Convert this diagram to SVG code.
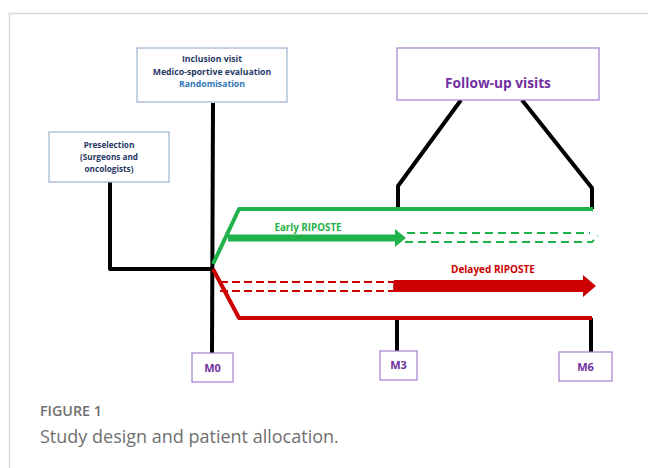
<svg xmlns="http://www.w3.org/2000/svg" width="648" height="468" viewBox="0 0 648 468">
<style>
.frame{stroke:#d9d9d9;stroke-width:1.5;fill:none}
.box{fill:#fff;stroke-width:1.2}
.bbox{stroke:#9db3cf}
.pbox{stroke:#a47fd0}
.blk{stroke:#000;stroke-width:4;fill:none;stroke-linejoin:round}
.grn{stroke:#1fb24a;stroke-width:4;fill:none;stroke-linejoin:round}
.red{stroke:#cc0000;stroke-width:4;fill:none;stroke-linejoin:round}
.gd{stroke:#1fb24a;stroke-width:2;fill:none;stroke-dasharray:8,5}
.rd{stroke:#cc0000;stroke-width:2;fill:none;stroke-dasharray:8,4}
.t{font-family:"Open Sans","Liberation Sans",sans-serif;font-weight:bold;text-anchor:middle}
.navy{fill:#1f3864}
.blue{fill:#2e74b5}
.purp{fill:#7030a0}
.cap{font-family:"Open Sans","Liberation Sans",sans-serif;fill:#6f6f6f}
</style>
<path class="frame" d="M9.5,468 V13.5 H648"/>
<g id="connectors">
<path class="blk" d="M213,103 L212,353"/>
<path class="blk" d="M110,182 V269 H212"/>
<path class="blk" d="M398,209 V186 L461,100"/>
<path class="blk" d="M592,209 V188 L522,100"/>
<path class="blk" d="M397,318 V351"/>
<path class="blk" d="M591,318 V352"/>
<path class="grn" d="M213,264 L239,209 H593"/>
<path class="red" d="M213,269 L239,318 H592"/>
<path class="gd" d="M407,233 H590"/>
<path class="gd" d="M405,242 H592 L598,236"/>
<path class="rd" d="M220,282 H394 M220,291 H394"/>
<path d="M394,282 V291" stroke="#cc0000" stroke-width="1.5"/>
<path d="M228,234.5 H395 V229 L406,238 L395,247 V241.5 H228 Z" fill="#1fb24a"/>
<path d="M394,280 H583 V275 L596,286 L583,297 V292 H394 Z" fill="#cc0000"/>
</g>
<g id="inclusion">
<rect class="box bbox" x="137" y="48" width="150" height="54"/>
<text class="t navy" x="212" y="62" font-size="8.7">Inclusion visit</text>
<text class="t navy" x="212" y="75" font-size="8.7">Medico-sportive evaluation</text>
<text class="t blue" x="212" y="87" font-size="8.7">Randomisation</text>
</g>
<g id="preselection">
<rect class="box bbox" x="49" y="132" width="120" height="50"/>
<text class="t navy" x="109" y="148" font-size="8.2">Preselection</text>
<text class="t navy" x="109" y="160" font-size="8.2">(Surgeons and</text>
<text class="t navy" x="109" y="172" font-size="8.2">oncologists)</text>
</g>
<g id="followup">
<rect class="box pbox" x="397" y="48" width="202" height="52"/>
<text class="t purp" x="498" y="88" font-size="13.7">Follow-up visits</text>
</g>
<g id="early">
<text class="t" x="308" y="231" font-size="9.8" fill="#1fb24a">Early RIPOSTE</text>
</g>
<g id="delayed">
<text class="t" x="493" y="273" font-size="10" fill="#cc0000">Delayed RIPOSTE</text>
</g>
<g id="m0">
<rect class="box pbox" x="192" y="353" width="41" height="29"/>
<text class="t purp" x="212.5" y="372" font-size="11">M0</text>
</g>
<g id="m3">
<rect class="box pbox" x="380" y="351" width="37" height="29"/>
<text class="t purp" x="398.5" y="369" font-size="11">M3</text>
</g>
<g id="m6">
<rect class="box pbox" x="559" y="352" width="53" height="29"/>
<text class="t purp" x="585.5" y="371" font-size="11">M6</text>
</g>
<text class="cap" x="40" y="416" font-size="14.3" font-weight="600">FIGURE 1</text>
<text class="cap" x="40" y="443" font-size="18">Study design and patient allocation.</text>
</svg>
